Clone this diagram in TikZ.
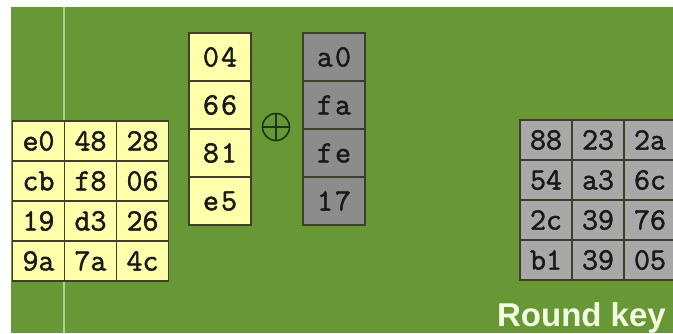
\documentclass[tikz,border=0pt]{standalone}
\usepackage{fontspec}
\newfontfamily\monofnt[FakeBold=1.6]{Latin Modern Mono}
\newfontfamily\sansbold{Liberation Sans}
\definecolor{bggreen}{RGB}{103,152,53}
\definecolor{lineg}{RGB}{172,212,140}
\definecolor{cellyel}{RGB}{255,255,172}
\definecolor{celldark}{RGB}{140,140,140}
\definecolor{celllight}{RGB}{168,168,168}
\definecolor{cellline}{RGB}{62,62,42}
\definecolor{keytext}{RGB}{242,252,225}
\definecolor{xorline}{RGB}{25,55,20}
\begin{document}
\begin{tikzpicture}[x=1pt,y=-1pt,
  cell/.style={draw=cellline,line width=1.4pt,inner sep=0pt,
    font=\monofnt\fontsize{31}{31}\selectfont,text=black!90},
  smallcell/.style={cell,minimum width=52pt,minimum height=40pt},
  tallcell/.style={cell,minimum width=62pt,minimum height=48pt,
    font=\monofnt\fontsize{31}{31}\selectfont\addfontfeature{LetterSpace=7}},
]
\useasboundingbox (0,0) rectangle (673,333);
\fill[bggreen] (11,7) rectangle (673,333);
\draw[lineg,line width=2pt] (64,7) -- (64,333);
% left state matrix (yellow)
\foreach \r/\a/\b/\c in {0/e0/48/28,1/cb/f8/06,2/19/d3/26,3/9a/7a/4c}{
  \node[smallcell,fill=cellyel] (l\r a) at (38.5,{141+40*\r}) {\a};
  \node[smallcell,fill=cellyel] (l\r b) at (90.5,{141+40*\r}) {\b};
  \node[smallcell,fill=cellyel] (l\r c) at (142.5,{141+40*\r}) {\c};
}
% middle yellow column
\foreach \r/\t in {0/04,1/66,2/81,3/e5}{
  \node[tallcell,fill=cellyel] (m\r) at (220,{57+48*\r}) {\t};
}
% XOR symbol
\node[circle,draw=xorline,line width=1.6pt,minimum size=27pt,inner sep=0pt] (xor) at (276,127) {};
\draw[xorline,line width=1.6pt] (xor.north) -- (xor.south) (xor.west) -- (xor.east);
% gray column
\foreach \r/\t in {0/a0,1/fa,2/fe,3/17}{
  \node[tallcell,fill=celldark] (g\r) at (334,{57+48*\r}) {\t};
}
% right round key matrix
\begin{scope}
\clip (0,0) rectangle (673,333);
\foreach \r/\a/\b/\c in {0/88/23/2a,1/54/a3/6c,2/2c/39/76,3/b1/39/05}{
  \node[smallcell,fill=celllight] (r\r a) at (546,{140+40*\r}) {\a};
  \node[smallcell,fill=celllight] (r\r b) at (598,{140+40*\r}) {\b};
  \node[smallcell,fill=celllight] (r\r c) at (650,{140+40*\r}) {\c};
}
\end{scope}
\node[anchor=base east,inner sep=0pt,text=keytext,
  font=\sansbold\bfseries\fontsize{33}{33}\selectfont] (key) at (666,326) {Round key};
\end{tikzpicture}
\end{document}
